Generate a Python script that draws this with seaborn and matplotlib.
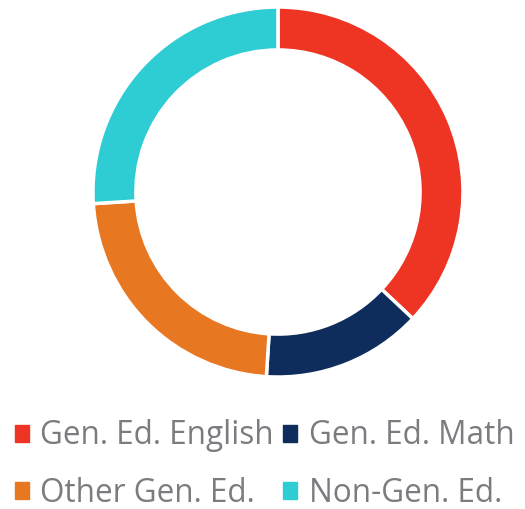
import matplotlib
matplotlib.use("Agg")
import matplotlib.pyplot as plt
import matplotlib.patches as mpatches
import seaborn as sns

# ----------------------------------------
# Data
# ----------------------------------------

categories = ["Gen. Ed. English", "Gen. Ed. Math", "Other Gen. Ed.", "Non-Gen. Ed."]
shares = [37, 14, 23, 26]
colors = ["#EE3524", "#0F2D5C", "#E87722", "#2ECCD3"]

# ----------------------------------------
# Style
# ----------------------------------------

sns.set_theme(style="white")
plt.rcParams["font.family"] = ["Open Sans", "DejaVu Sans"]

fig = plt.figure(figsize=(5.25, 5.09), dpi=100)
ax = fig.add_axes([0.1771, 0.2593, 0.7048, 0.7269])

# ----------------------------------------
# Donut
# ----------------------------------------

ax.pie(shares, colors=colors, startangle=90, counterclock=False,
       wedgeprops=dict(width=0.232, edgecolor="white", linewidth=2.5))
ax.set_aspect("auto")
ax.set_xlim(-1, 1)
ax.set_ylim(-1, 1)
ax.axis("off")

# ----------------------------------------
# Legend (filled row by row)
# ----------------------------------------

handles = [mpatches.Patch(color=c, label=l) for c, l in zip(colors, categories)]
order = [0, 2, 1, 3]
fig.legend(handles=[handles[i] for i in order], loc="lower left",
           bbox_to_anchor=(15 / 525, -1 / 509), ncol=2,
           frameon=False, fontsize=22.7, labelcolor="#7A7C80",
           handlelength=0.44, handleheight=0.44, handletextpad=0.36,
           columnspacing=0.3, labelspacing=0.78, borderpad=0.0, borderaxespad=0.0)

plt.savefig("out.png", dpi=100)
plt.close()
